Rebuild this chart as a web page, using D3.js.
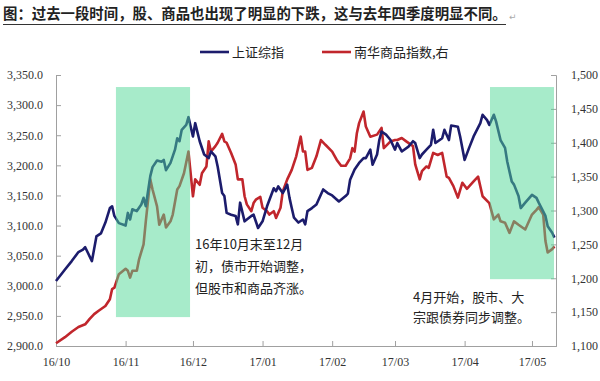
<!DOCTYPE html>
<html><head><meta charset="utf-8">
<script src="https://cdn.jsdelivr.net/npm/d3@7"></script>
<style>body{margin:0;background:#fff}</style>
</head><body><svg id="c" width="600" height="381"></svg>
<script>
const title = "图：过去一段时间，股、商品也出现了明显的下跌，这与去年四季度明显不同。";
const seriesNames = ["上证综指", "南华商品指数,右"];
const baseDate = new Date(2016, 9, 1);
// days after 2016-10-01
const shDays = [0,4,7,10,12,13,16,18,20,22,24,25,26,28,31,32,33,34,36,38,39,40,42,43,45,47,48,49,51,53,54,55,56,58,59,61,62,64,66,68,69,71,72,74,75,76,78,80,81,82,84,87,88,90,92,94,97,98,99,101,103,104,105,106,108,110,111,112,114,116,119,121,123,126,129,130,131,133,135,137,138,140,141,143,144,145,147,149,151,152,154,157,159,160,162,163,165,167,168,169,172,173,175,176,179,180,182,184,186,189,190,192,193,195,196,198,200,201,203,204,206,207,209,212,214,215,218,219,221,222];
const shValues = [3008,3027,3041,3056,3060,3064,3041,3082,3087,3105,3129,3132,3116,3104,3100,3121,3110,3127,3124,3135,3146,3132,3182,3197,3208,3206,3209,3192,3204,3226,3245,3240,3259,3267,3280,3248,3270,3240,3218,3212,3223,3215,3198,3154,3149,3121,3118,3116,3102,3138,3107,3116,3118,3096,3107,3132,3162,3157,3165,3154,3168,3146,3129,3113,3105,3110,3102,3124,3129,3135,3160,3154,3150,3140,3149,3153,3176,3193,3204,3212,3212,3226,3201,3218,3242,3256,3251,3242,3226,3237,3223,3231,3240,3237,3212,3218,3226,3234,3259,3237,3245,3259,3242,3266,3264,3248,3209,3229,3248,3270,3284,3275,3267,3284,3273,3242,3229,3206,3173,3168,3149,3129,3138,3151,3146,3138,3116,3099,3088,3080];
const nhDays = [0,4,7,10,13,15,17,19,22,24,25,26,28,31,32,33,34,36,37,39,40,42,43,45,46,48,49,51,52,54,55,57,59,61,62,64,65,67,68,69,71,72,74,75,76,78,80,81,83,84,85,87,88,89,91,92,94,95,97,98,100,101,103,105,107,109,110,111,112,114,116,118,120,123,125,127,129,131,132,133,134,135,137,138,140,143,145,146,149,151,152,154,156,159,160,162,163,165,166,168,170,172,174,175,177,179,181,183,186,188,190,193,195,197,198,200,202,204,206,209,212,214,215,217,218,219,221,222];
const nhValues = [1104,1113,1121,1128,1132,1140,1147,1152,1159,1169,1184,1186,1206,1214,1211,1201,1211,1211,1228,1250,1284,1346,1331,1306,1279,1294,1275,1284,1294,1331,1336,1355,1387,1321,1346,1338,1355,1365,1402,1387,1395,1400,1413,1402,1400,1385,1368,1346,1346,1321,1309,1299,1311,1316,1320,1304,1299,1294,1299,1289,1304,1328,1346,1360,1380,1409,1387,1387,1360,1363,1380,1404,1397,1387,1375,1366,1366,1377,1392,1387,1414,1429,1446,1424,1409,1412,1422,1392,1402,1404,1404,1407,1402,1395,1368,1346,1358,1365,1363,1385,1382,1385,1350,1348,1336,1319,1341,1332,1343,1350,1321,1311,1287,1294,1284,1282,1267,1284,1279,1272,1294,1301,1305,1294,1255,1238,1243,1247];
const leftTicks = [2900,2950,3000,3050,3100,3150,3200,3250,3300,3350];
const rightTicks = [1100,1150,1200,1250,1300,1350,1400,1450,1500];
const monthTicks = ["2016-10","2016-11","2016-12","2017-01","2017-02","2017-03","2017-04","2017-05"];
// shaded periods: start/end day offsets, top/bottom on left axis
const hlStart = [26.7, 193.3];
const hlEnd = [59.7, 221.8];
const hlTop = [3330, 3330];
const hlBottom = [2948, 3011];
const note1 = ["16年10月末至12月", "初，债市开始调整，", "但股市和商品齐涨。"];
const note2 = ["4月开始，股市、大", "宗跟债券同步调整。"];

const svg = d3.select("#c");
const day = d => d3.timeDay.offset(baseDate, Math.floor(d)).getTime() + (d % 1) * 864e5;
const x = d3.scaleTime().domain([baseDate, new Date(day(222.7))]).range([56, 556]);
const yL = d3.scaleLinear().domain([2900, 3350]).range([346, 75]);
const yR = d3.scaleLinear().domain([1100, 1500]).range([346, 75]);
const blue = "#1c1c6c", red = "#c1262c";
const serif = "'Liberation Serif', 'Times New Roman', serif";
const cjk = "'Noto Sans CJK SC', sans-serif";

// title
svg.append("text").attr("x", 3).attr("y", 19).attr("font-family", cjk).attr("font-weight", "bold")
  .attr("font-size", 14.4).attr("fill", "#222").text(title);
svg.append("line").attr("x1", 3).attr("x2", 506).attr("y1", 24.5).attr("y2", 24.5).attr("stroke", "#333").attr("stroke-width", 1.2);
svg.append("text").attr("x", 509).attr("y", 20).attr("font-size", 9).attr("fill", "#aaa").attr("font-family", "DejaVu Sans").text("↵");

// axes
const axisL = d3.axisLeft(yL).tickValues(leftTicks).tickFormat(d3.format(",.1f")).tickSize(-5).tickPadding(13);
const gL = svg.append("g").attr("transform", "translate(56,0)").call(axisL);
const axisR = d3.axisRight(yR).tickValues(rightTicks).tickFormat(d3.format(",")).tickSize(-5).tickPadding(15);
const gR = svg.append("g").attr("transform", "translate(556,0)").call(axisR);
const axisX = d3.axisBottom(x).tickValues(monthTicks.map(m => d3.timeParse("%Y-%m")(m)))
  .tickFormat(d3.timeFormat("%y/%m")).tickSize(-5).tickPadding(11);
const gX = svg.append("g").attr("transform", "translate(0,346)").call(axisX);
[gL, gR, gX].forEach(g => {
  g.select(".domain").attr("stroke", "#a0a0a0");
  g.selectAll(".tick line").attr("stroke", "#a0a0a0");
  g.selectAll(".tick text").attr("font-family", serif).attr("font-size", 12).attr("fill", "#333");
});
gX.selectAll(".tick line").filter((d, i) => i === 0).remove();

// lines
const lineL = d3.line().x((d, i) => x(new Date(day(shDays[i])))).y(d => yL(d));
const lineR = d3.line().x((d, i) => x(new Date(day(nhDays[i])))).y(d => yR(d));
svg.append("path").attr("d", lineR(nhValues)).attr("fill", "none").attr("stroke", red).attr("stroke-width", 2.6).attr("stroke-linejoin", "round");
svg.append("path").attr("d", lineL(shValues)).attr("fill", "none").attr("stroke", blue).attr("stroke-width", 2.6).attr("stroke-linejoin", "round");

// highlight boxes
hlStart.forEach((s, i) => {
  svg.append("rect").attr("x", x(new Date(day(s)))).attr("width", x(new Date(day(hlEnd[i]))) - x(new Date(day(s))))
    .attr("y", yL(hlTop[i])).attr("height", yL(hlBottom[i]) - yL(hlTop[i]))
    .attr("fill", "#4fd896").attr("fill-opacity", 0.5);
});

// legend
const leg = [{n: seriesNames[0], c: blue, x: 200}, {n: seriesNames[1], c: red, x: 322}];
leg.forEach(l => {
  svg.append("line").attr("x1", l.x).attr("x2", l.x + 29).attr("y1", 52).attr("y2", 52).attr("stroke", l.c).attr("stroke-width", 2.6);
  svg.append("text").attr("x", l.x + 32).attr("y", 57).attr("font-family", cjk).attr("font-size", 13).attr("fill", "#222").text(l.n);
});

// notes
note1.forEach((t, i) => svg.append("text").attr("x", 195).attr("y", 249 + i * 22).attr("font-family", cjk).attr("font-size", 13).attr("fill", "#222").text(t));
note2.forEach((t, i) => svg.append("text").attr("x", 413).attr("y", 302 + i * 20).attr("font-family", cjk).attr("font-size", 13).attr("fill", "#222").text(t));
</script></body></html>
